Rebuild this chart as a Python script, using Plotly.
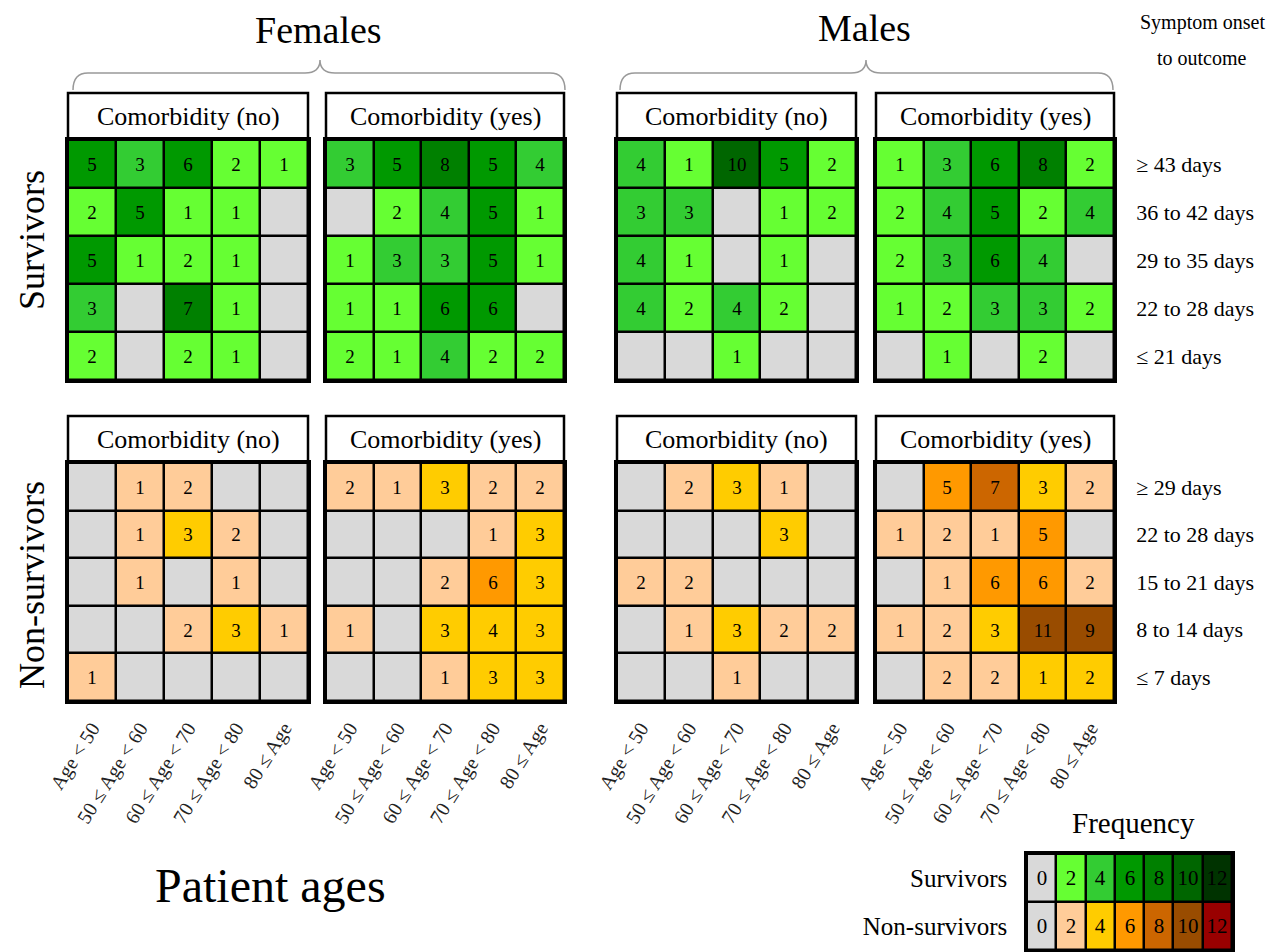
import plotly.graph_objects as go

# ---------------- data ----------------
age_groups = ["Age < 50", "50 ≤ Age < 60", "60 ≤ Age < 70", "70 ≤ Age < 80", "80 ≤ Age"]
surv_days = ["≥ 43 days", "36 to 42 days", "29 to 35 days", "22 to 28 days", "≤ 21 days"]
nonsurv_days = ["≥ 29 days", "22 to 28 days", "15 to 21 days", "8 to 14 days", "≤ 7 days"]

females_surv_no = [[5, 3, 6, 2, 1], [2, 5, 1, 1, 0], [5, 1, 2, 1, 0], [3, 0, 7, 1, 0], [2, 0, 2, 1, 0]]
females_surv_yes = [[3, 5, 8, 5, 4], [0, 2, 4, 5, 1], [1, 3, 3, 5, 1], [1, 1, 6, 6, 0], [2, 1, 4, 2, 2]]
males_surv_no = [[4, 1, 10, 5, 2], [3, 3, 0, 1, 2], [4, 1, 0, 1, 0], [4, 2, 4, 2, 0], [0, 0, 1, 0, 0]]
males_surv_yes = [[1, 3, 6, 8, 2], [2, 4, 5, 2, 4], [2, 3, 6, 4, 0], [1, 2, 3, 3, 2], [0, 1, 0, 2, 0]]

females_non_no = [[0, 1, 2, 0, 0], [0, 1, 3, 2, 0], [0, 1, 0, 1, 0], [0, 0, 2, 3, 1], [1, 0, 0, 0, 0]]
females_non_yes = [[2, 1, 3, 2, 2], [0, 0, 0, 1, 3], [0, 0, 2, 6, 3], [1, 0, 3, 4, 3], [0, 0, 1, 3, 3]]
males_non_no = [[0, 2, 3, 1, 0], [0, 0, 0, 3, 0], [2, 2, 0, 0, 0], [0, 1, 3, 2, 2], [0, 0, 1, 0, 0]]
males_non_yes = [[0, 5, 7, 3, 2], [1, 2, 1, 5, 0], [0, 1, 6, 6, 2], [1, 2, 3, 11, 9], [0, 2, 2, 1, 2]]

# shading as printed in the original figure where it departs from the value bins
males_non_yes_shade_override = {(4, 3): 2, (4, 4): 2}

legend_values = ["0", "2", "4", "6", "8", "10", "12"]
legend_rows = ["Survivors", "Non-survivors"]
level_edges = [0, 2, 4, 6, 8, 11, 12]

surv_colors = ["#D9D9D9", "#66FF33", "#33CC33", "#009900", "#008000", "#006600", "#003300"]
non_colors = ["#D9D9D9", "#FFCC99", "#FFCC00", "#FF9900", "#CC6600", "#994C00", "#990000"]

# ---------------- helpers ----------------
W, H = 1271, 952
FONT = "Liberation Serif, Times New Roman, serif"


def level(v):
    for i, e in enumerate(level_edges):
        if v <= e:
            return i
    return len(level_edges) - 1


def levels(mat, override=None):
    out = [[level(v) for v in row] for row in mat]
    if override:
        for (r, c), lv in override.items():
            out[r][c] = lv
    return out


def discrete_scale(colors):
    n = len(colors)
    cs = []
    for i, c in enumerate(colors):
        cs.append([i / n, c])
        cs.append([(i + 1) / n, c])
    return cs


def px(x):
    return x / W


def py(y):
    return 1 - y / H


def aid(k):
    return "" if k == 1 else str(k)


fig = go.Figure()

cols_px = [(68, 308), (326, 564), (617, 856), (876, 1114)]
rows_px = [(140, 380), (463, 701)]
HEADER = 47

panels = [
    (0, 0, females_surv_no, "Comorbidity (no)", None),
    (0, 1, females_surv_yes, "Comorbidity (yes)", None),
    (0, 2, males_surv_no, "Comorbidity (no)", None),
    (0, 3, males_surv_yes, "Comorbidity (yes)", None),
    (1, 0, females_non_no, "Comorbidity (no)", None),
    (1, 1, females_non_yes, "Comorbidity (yes)", None),
    (1, 2, males_non_no, "Comorbidity (no)", None),
    (1, 3, males_non_yes, "Comorbidity (yes)", males_non_yes_shade_override),
]

shapes = []
annotations = []

for k, (r, c, mat, header, override) in enumerate(panels, start=1):
    colors = surv_colors if r == 0 else non_colors
    days = surv_days if r == 0 else nonsurv_days
    fig.add_trace(go.Heatmap(
        z=levels(mat, override),
        x=age_groups,
        y=days,
        text=[[str(v) if v > 0 else "" for v in row] for row in mat],
        texttemplate="%{text}",
        textfont=dict(family=FONT, size=19, color="black"),
        colorscale=discrete_scale(colors),
        zmin=-0.5, zmax=len(colors) - 0.5,
        showscale=False,
        xgap=2.5, ygap=2.5,
        hoverinfo="skip",
        xaxis=f"x{aid(k)}", yaxis=f"y{aid(k)}",
    ))
    x0, x1 = cols_px[c]
    y0, y1 = rows_px[r]
    fig.layout[f"xaxis{aid(k)}"] = dict(
        domain=[px(x0), px(x1)], anchor=f"y{aid(k)}", automargin=False,
        showgrid=False, zeroline=False,
        showline=True, mirror=True, linecolor="black", linewidth=2.5,
        showticklabels=(r == 1), ticks="outside" if r == 1 else "",
        ticklen=5, tickcolor="rgba(0,0,0,0)",
        tickangle=-58, tickfont=dict(family=FONT, size=20, color="#222"),
        fixedrange=True,
    )
    fig.layout[f"yaxis{aid(k)}"] = dict(
        domain=[py(y1), py(y0)], anchor=f"x{aid(k)}", automargin=False,
        autorange="reversed",
        showgrid=False, zeroline=False,
        showline=True, mirror=True, linecolor="black", linewidth=2.5,
        showticklabels=(c == 3), side="right",
        ticks="outside" if c == 3 else "", ticklen=15, tickcolor="rgba(0,0,0,0)",
        tickfont=dict(family=FONT, size=22, color="black"),
        fixedrange=True,
    )
    hfrac = HEADER / (y1 - y0)
    shapes.append(dict(
        type="rect", xref=f"x{aid(k)} domain", yref=f"y{aid(k)} domain",
        x0=0, x1=1, y0=1, y1=1 + hfrac,
        line=dict(color="black", width=2.5), fillcolor="white", layer="below",
    ))
    annotations.append(dict(
        text=header, xref=f"x{aid(k)} domain", yref=f"y{aid(k)} domain",
        x=0.5, y=1 + hfrac / 2, xanchor="center", yanchor="middle", showarrow=False,
        font=dict(family=FONT, size=26, color="black"),
    ))

# ---------------- frequency legend ----------------
kL = len(panels) + 1
n_lv = len(surv_colors)
fig.add_trace(go.Heatmap(
    z=[[level(int(v)) for v in legend_values],
       [level(int(v)) + n_lv for v in legend_values]],
    x=legend_values,
    y=legend_rows,
    text=[legend_values, legend_values],
    texttemplate="%{text}",
    textfont=dict(family=FONT, size=21, color="black"),
    colorscale=discrete_scale(surv_colors + non_colors),
    zmin=-0.5, zmax=2 * n_lv - 0.5,
    showscale=False, xgap=2.5, ygap=2.5, hoverinfo="skip",
    xaxis=f"x{kL}", yaxis=f"y{kL}",
))
fig.layout[f"xaxis{kL}"] = dict(
    domain=[px(1027), px(1232)], anchor=f"y{kL}", automargin=False,
    showgrid=False, zeroline=False, showticklabels=False,
    showline=True, mirror=True, linecolor="black", linewidth=2.5, fixedrange=True,
)
fig.layout[f"yaxis{kL}"] = dict(
    domain=[py(950), py(854)], anchor=f"x{kL}", automargin=False,
    autorange="reversed",
    showgrid=False, zeroline=False,
    showline=True, mirror=True, linecolor="black", linewidth=2.5,
    ticks="outside", ticklen=12, tickcolor="rgba(0,0,0,0)",
    tickfont=dict(family=FONT, size=25, color="black"), fixedrange=True,
)

# ---------------- braces ----------------
def brace(x0, x1, xm, y_end, y_line, y_tip):
    r = 15
    return (f"M {px(x0)},{py(y_end)} Q {px(x0)},{py(y_line)} {px(x0 + r)},{py(y_line)} "
            f"L {px(xm - r)},{py(y_line)} Q {px(xm)},{py(y_line)} {px(xm)},{py(y_tip)} "
            f"Q {px(xm)},{py(y_line)} {px(xm + r)},{py(y_line)} "
            f"L {px(x1 - r)},{py(y_line)} Q {px(x1)},{py(y_line)} {px(x1)},{py(y_end)}")


for (bx0, bx1, bxm) in [(73, 565, 320), (620, 1113, 866)]:
    shapes.append(dict(type="path", xref="paper", yref="paper",
                       path=brace(bx0, bx1, bxm, 90, 73, 60),
                       line=dict(color="#999999", width=1.5)))

# ---------------- titles / labels ----------------
def label(text, x, y, size, angle=0, xanchor="center"):
    annotations.append(dict(text=text, xref="paper", yref="paper", x=px(x), y=py(y),
                            showarrow=False, textangle=angle, xanchor=xanchor, yanchor="middle",
                            font=dict(family=FONT, size=size, color="black")))


label("Females", 318, 30, 38)
label("Males", 864, 28, 38)
label("Symptom onset", 1202, 22, 20)
label("to outcome", 1202, 58, 20)
label("Survivors", 32, 240, 36, angle=-90)
label("Non-survivors", 32, 585, 36, angle=-90)
label("Patient ages", 270, 885, 48)
label("Frequency", 1133, 823, 29)

fig.update_layout(
    width=W, height=H,
    margin=dict(l=0, r=0, t=0, b=0, autoexpand=False),
    paper_bgcolor="white", plot_bgcolor="black",
    font=dict(family=FONT, color="black"),
    shapes=shapes, annotations=annotations,
    showlegend=False,
)

fig.write_html(
    "out.html",
    config={"displayModeBar": False},
    post_script="document.body.style.margin='0';document.body.style.overflow='hidden';",
)
